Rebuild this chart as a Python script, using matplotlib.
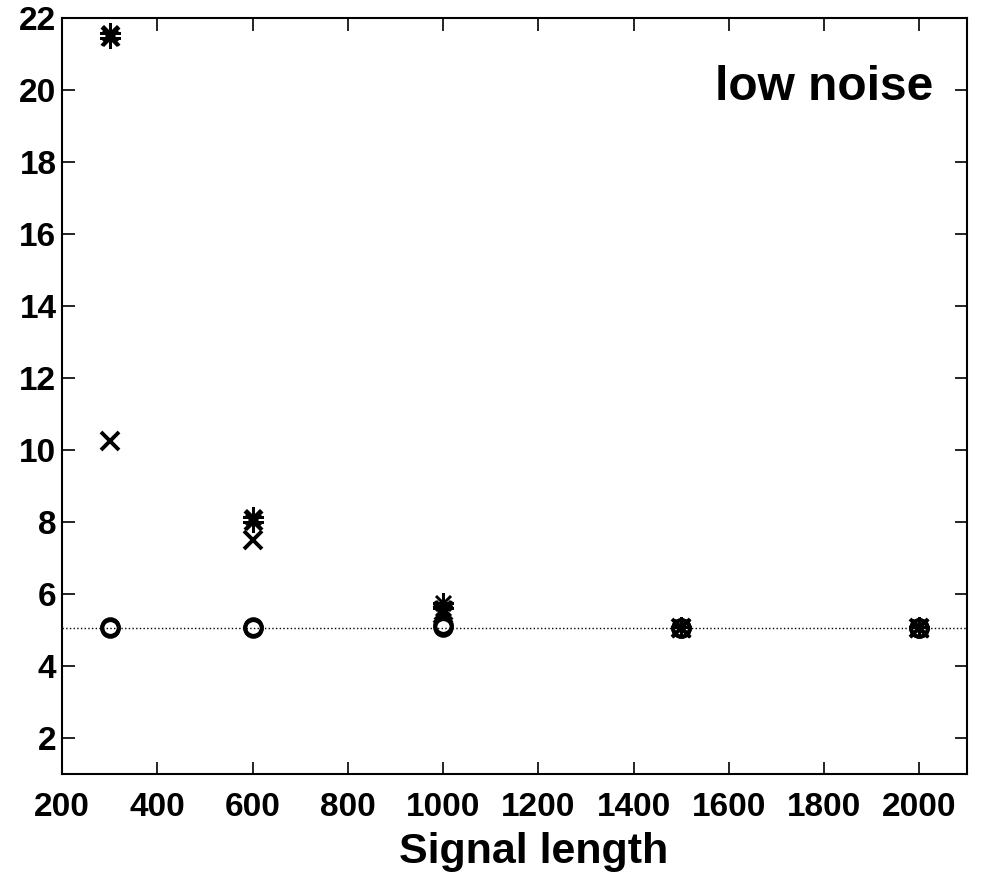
import numpy as np
import matplotlib
matplotlib.use('Agg')
import matplotlib.pyplot as plt

plt.rcParams['font.family'] = ['Liberation Sans', 'DejaVu Sans']
plt.rcParams['font.weight'] = 'bold'

lengths = [300, 600, 1000, 1500, 2000]
# one list per method
circ_a = [5.08, 5.08, 5.08, 5.06, 5.06]
circ_b = [5.05, 5.05, 5.15, 5.06, 5.06]
cross_a = [10.25, 7.5, 5.45, 5.05, 5.05]
cross_b = [21.5, 8.05, 5.55, 5.05, 5.05]
star_a = [21.58, 8.15, 5.75, 5.08, 5.08]
star_b = [21.45, 8.0, 5.62, 5.08, 5.08]
ref_level = 5.05

fig = plt.figure(figsize=(9.82, 8.74), dpi=100)
ax = fig.add_axes([62/982, 100/874, 905/982, 756/874])

ax.axhline(ref_level, color='black', linestyle=':', linewidth=1)

ax.plot(lengths, circ_a, 'o', mfc='none', mec='black', ms=12, mew=2.8)
ax.plot(lengths, circ_b, 'o', mfc='none', mec='black', ms=12, mew=2.8)
ax.plot(lengths, cross_a, 'x', color='black', ms=13, mew=2.8)
ax.plot(lengths, cross_b, 'x', color='black', ms=13, mew=2)
ax.plot(lengths, star_a, marker=(8, 2, 0), ls='none', color='black', ms=15, mew=1.8)
ax.plot(lengths, star_b, marker=(8, 2, 0), ls='none', color='black', ms=15, mew=1.8)

ax.set_xlim(200, 2100)
ax.set_ylim(1, 22)
ax.set_xticks(np.arange(200, 2001, 200))
ax.set_yticks(np.arange(2, 23, 2))
ax.tick_params(direction='in', top=True, right=True, length=9, width=1.2,
               labelsize=24)
ax.tick_params(axis='x', pad=13)
ax.tick_params(axis='y', pad=4)
for s in ax.spines.values():
    s.set_linewidth(1.5)

ax.set_xlabel('Signal length', fontsize=31, fontweight='bold')
ax.xaxis.label.set_va('baseline')
ax.xaxis.set_label_coords(0.5215, -0.118)
ax.text(0.9624, 0.8915, 'low noise', transform=ax.transAxes, ha='right', va='baseline',
        fontsize=34.5, fontweight='bold')

fig.savefig('out.png', dpi=100)
